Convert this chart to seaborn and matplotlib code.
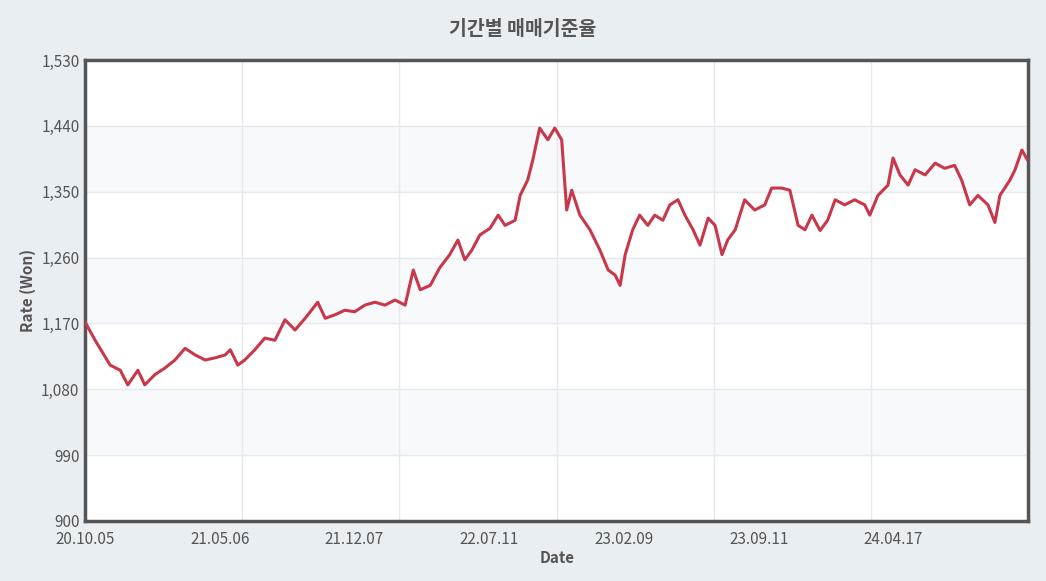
import matplotlib
matplotlib.use("Agg")
import matplotlib.pyplot as plt
import seaborn as sns
import pandas as pd

start_date = "2020-10-05"
day_offsets = [0,16,40,56,68,84,95,111,127,143,159,175,191,207,223,231,243,254,270,286,302,318,334,350,370,382,398,413,429,445,461,477,493,509,522,533,549,564,580,593,604,615,628,644,657,668,684,692,704,712,723,736,747,758,766,774,787,803,819,832,843,851,859,871,882,895,906,919,930,943,954,967,978,991,1002,1013,1022,1034,1049,1065,1081,1092,1108,1121,1134,1145,1156,1169,1181,1193,1208,1224,1240,1248,1261,1277,1285,1296,1309,1320,1336,1352,1367,1383,1394,1407,1420,1436,1447,1455,1471,1479,1490,1499]
rates = [1172,1147,1113,1106,1086,1106,1086,1100,1109,1120,1136,1127,1120,1123,1127,1134,1113,1120,1134,1150,1147,1175,1161,1177,1199,1177,1182,1188,1186,1195,1199,1195,1202,1195,1243,1216,1222,1246,1264,1284,1257,1270,1291,1300,1318,1304,1311,1345,1366,1393,1437,1421,1437,1421,1325,1352,1318,1298,1270,1243,1236,1222,1264,1298,1318,1304,1318,1311,1332,1339,1318,1298,1277,1314,1304,1264,1284,1298,1339,1325,1332,1355,1355,1352,1304,1298,1318,1297,1311,1339,1332,1339,1332,1318,1345,1359,1396,1373,1359,1380,1373,1389,1382,1386,1366,1332,1345,1332,1308,1345,1366,1380,1407,1393]
tick_labels = ["20.10.05","21.05.06","21.12.07","22.07.11","23.02.09","23.09.11","24.04.17"]
y_ticks = [900,990,1080,1170,1260,1350,1440,1530]

n = min(len(day_offsets), len(rates))
df = pd.DataFrame({"Date": pd.to_datetime(start_date) + pd.to_timedelta(day_offsets[:n], unit="D"),
                   "Rate": rates[:n]})

sns.set_theme(style="white")
plt.rcParams['font.family'] = ['Noto Sans CJK KR', 'DejaVu Sans']
fig = plt.figure(figsize=(10.46, 5.81), dpi=100)
fig.patch.set_facecolor("#e9eef2")
ax = fig.add_axes([0.0813, 0.1033, 0.9017, 0.7934])
ax.set_facecolor("white")
for i in range(len(y_ticks) - 1):
    if i % 2 == 1:
        ax.axhspan(y_ticks[i], y_ticks[i+1], color="#f7f9fb", zorder=0)
for y in y_ticks:
    ax.axhline(y, color="#e6e9ee", lw=1, zorder=0.5)

sns.lineplot(data=df, x="Date", y="Rate", ax=ax, color="#c8374a", lw=2.2, zorder=3)

x0 = pd.to_datetime(start_date)
total = 1500
ax.set_xlim(x0, x0 + pd.Timedelta(days=total))
ax.set_ylim(900, 1530)
for k in range(1, 6):
    ax.axvline(x0 + pd.Timedelta(days=total * k / 6), color="#e6e9ee", lw=1, zorder=0.5)
tick_pos = [x0 + pd.Timedelta(days=total * k / 7) for k in range(7)]
ax.set_xticks(tick_pos)
ax.set_xticklabels(tick_labels, color="#555555", fontsize=11)
ax.set_yticks(y_ticks)
ax.set_yticklabels([f"{v:,}" for v in y_ticks], color="#555555", fontsize=11)
ax.tick_params(axis="x", length=0, pad=7)
ax.tick_params(axis="y", length=0, pad=4)
ax.set_xlabel("Date", color="#555555", fontsize=11, fontweight="bold", labelpad=2)
ax.set_ylabel("Rate (Won)", color="#555555", fontsize=11, fontweight="bold")
for s in ax.spines.values():
    s.set_color("#555555"); s.set_linewidth(2.5); s.set_visible(True)
fig.suptitle("기간별 매매기준율", y=0.965, fontsize=14, fontweight="bold", color="#555555")
fig.savefig("out.png", dpi=100, facecolor=fig.get_facecolor())
